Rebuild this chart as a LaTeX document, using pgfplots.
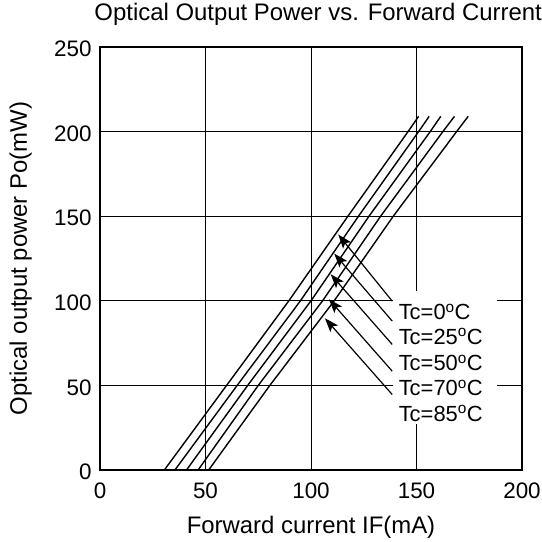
\documentclass[border=0pt]{standalone}
\usepackage{pgfplots}
\pgfplotsset{compat=1.18}
\usepackage{fontspec}
\setmainfont{Liberation Sans}
\usetikzlibrary{arrows.meta}

\newcommand{\chartfont}{\fontsize{22.5}{26}\selectfont}
\newcommand{\labelfont}{\fontsize{24}{28}\selectfont}

\begin{document}
\begin{tikzpicture}
\path[use as bounding box] (0,0) rectangle (542bp,542bp);
\begin{axis}[
    at={(100bp,72bp)}, anchor=south west,
    scale only axis, width=422bp, height=423bp,
    xmin=0, xmax=200, ymin=0, ymax=250,
    xtick={0,50,...,200}, ytick={0,50,...,250},
    grid=major,
    major grid style={black, line width=0.9bp},
    axis line style={line width=1.8bp},
    major tick length=0pt,
    tick label style={font=\chartfont},
    /pgf/number format/assume math mode=true,
    xticklabel style={yshift=-9.5bp},
    yticklabel style={xshift=-5bp, yshift=-2bp},
    title={Optical Output Power vs. Forward Current},
    title style={font=\labelfont, at={(axis description cs:0.517,1.048)}, anchor=base},
    xlabel={Forward current IF(mA)},
    xlabel style={font=\labelfont, at={(axis description cs:0.5,-0.15)}, anchor=base},
    ylabel={Optical output power Po(mW)},
    ylabel style={font=\labelfont, at={(axis description cs:-0.173,0.5)}, anchor=base},
    curve/.style={black, line width=1.4bp, no marks},
]
% Tc = 0 C
\addplot[curve] coordinates {(20,0) (30.5,0) (60,50) (89.5,100) (117.5,150) (146,200) (151,209)};
% Tc = 25 C
\addplot[curve] coordinates {(20,0) (35.5,0) (65,50) (95,100) (122.5,150) (151,200) (156,209)};
% Tc = 50 C
\addplot[curve] coordinates {(20,0) (41,0) (70,50) (100,100) (127.5,150) (156.5,200) (161.5,209)};
% Tc = 70 C
\addplot[curve] coordinates {(20,0) (46.5,0) (75,50) (105.5,100) (133,150) (162.5,200) (168,209)};
% Tc = 85 C
\addplot[curve] coordinates {(20,0) (51.5,0) (80.5,50) (111,100) (139,150) (169,200) (174.5,209)};

% label box
\fill[white] (axis cs:138.9,27) rectangle (axis cs:188.2,105.5);

\begin{scope}[line width=1.2bp, -{Stealth[length=14bp,width=10bp,inset=3bp]}]
\draw (axis cs:138.5,99.8) -- (axis cs:112.9,139.2);
\draw (axis cs:138.5,88.0) -- (axis cs:111.0,127.9);
\draw (axis cs:138.5,74.2) -- (axis cs:109.3,115.7);
\draw (axis cs:138.5,58.4) -- (axis cs:108.5,100.9);
\draw (axis cs:138.5,44.6) -- (axis cs:106.6,89.7);
\end{scope}

\begin{scope}[every node/.style={anchor=base west, inner sep=0pt, font=\fontsize{22}{26}\selectfont}]
\node at (axis cs:141.5,88.9) {Tc=0\textsuperscript{o}C};
\node at (axis cs:141.5,74.2) {Tc=25\textsuperscript{o}C};
\node at (axis cs:141.5,58.8) {Tc=50\textsuperscript{o}C};
\node at (axis cs:141.5,44.0) {Tc=70\textsuperscript{o}C};
\node at (axis cs:141.5,28.8) {Tc=85\textsuperscript{o}C};
\end{scope}
\end{axis}
\end{tikzpicture}
\end{document}
